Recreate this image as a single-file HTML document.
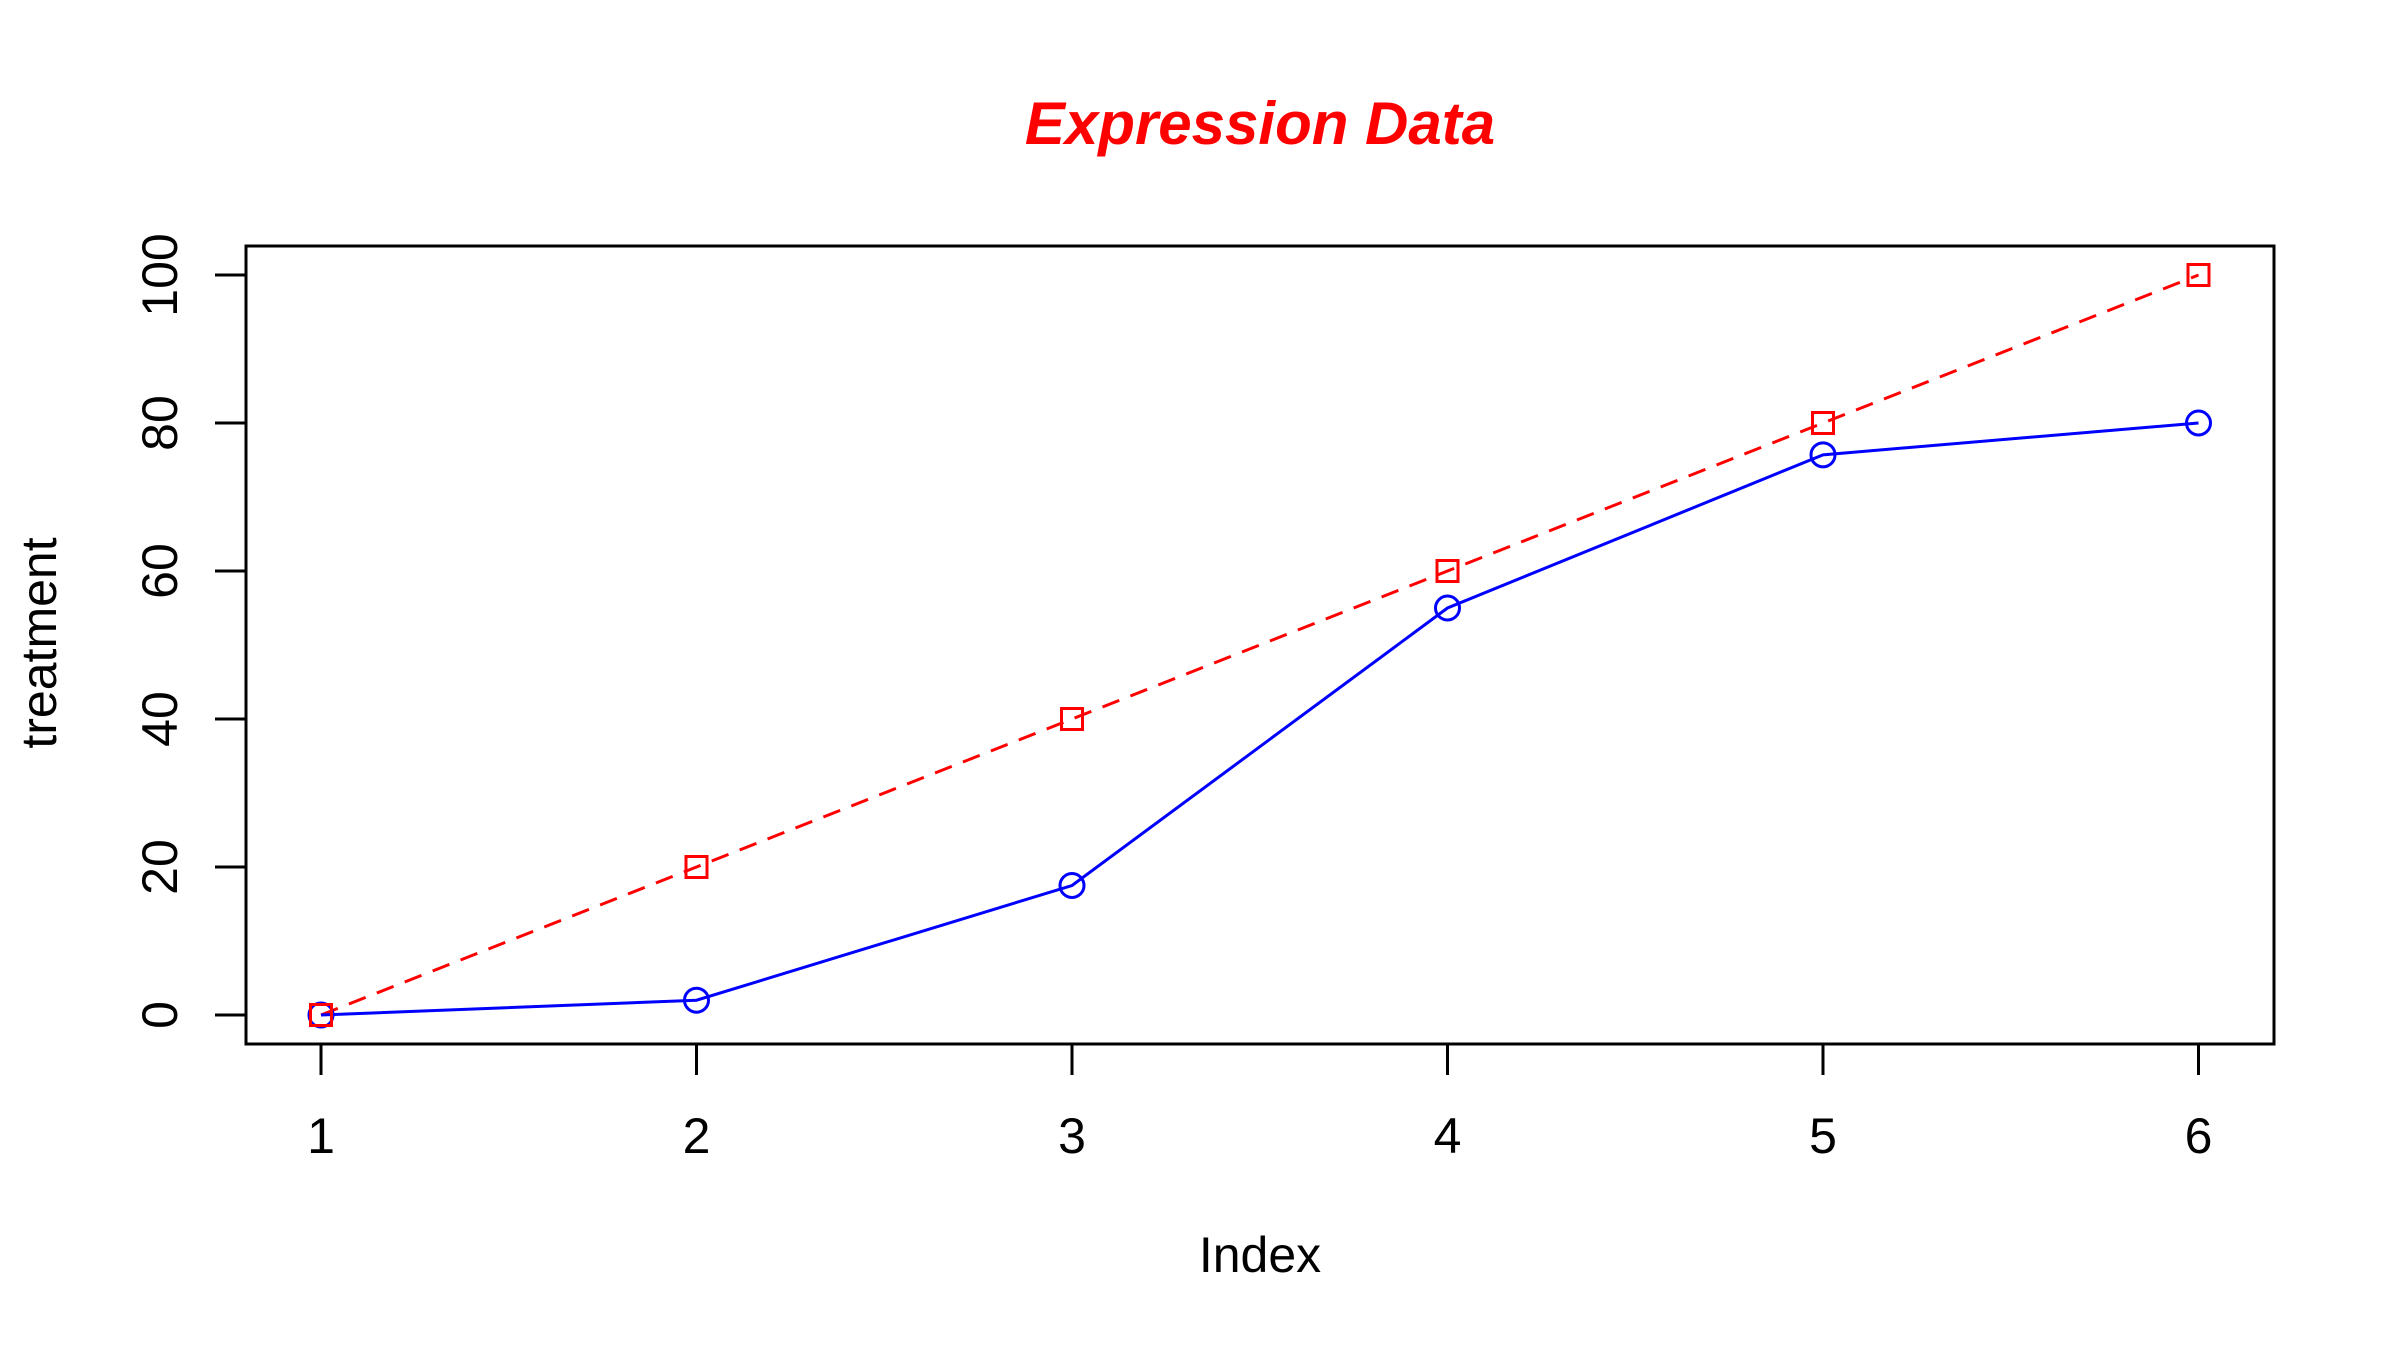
<!DOCTYPE html>
<html><head><meta charset="utf-8"><style>
html,body{margin:0;padding:0;background:#fff;}
svg{display:block;font-family:"Liberation Sans",Arial,sans-serif;}
</style></head><body>
<svg id="chart" width="2400" height="1350" viewBox="0 0 2400 1350">
<text x="1260" y="144" text-anchor="middle" font-size="60" font-weight="bold" font-style="italic" fill="#ff0000">Expression Data</text>
<rect x="246" y="246" width="2028" height="798" fill="none" stroke="#000" stroke-width="3"/>
<g id="xaxis"></g>
<g id="yaxis"></g>
<text x="1260" y="1272" text-anchor="middle" font-size="50">Index</text>
<text transform="translate(56,643) rotate(-90)" text-anchor="middle" font-size="50">treatment</text>
<g id="series"></g>
</svg>
<script>
const xIdx = [1, 2, 3, 4, 5, 6];
const control = [0, 2, 17.5, 55, 75.7, 80];
const treatment = [0, 20, 40, 60, 80, 100];
const xTicks = [1, 2, 3, 4, 5, 6];
const yTicks = [0, 20, 40, 60, 80, 100];

const NS = "http://www.w3.org/2000/svg";
function X(v){ return 321 + (v - 1) * 375.5; }
function Y(v){ return 1015 - v * 7.4; }
function mk(tag, attrs, parent){
  const e = document.createElementNS(NS, tag);
  for (const k in attrs) e.setAttribute(k, attrs[k]);
  parent.appendChild(e);
  return e;
}
const xa = document.getElementById('xaxis');
const ya = document.getElementById('yaxis');
const sg = document.getElementById('series');

xTicks.forEach(t => {
  const l = mk('line', {x1: X(t), x2: X(t), y1: 1044, y2: 1075, stroke: '#000', 'stroke-width': 3}, xa);
  
  
  const tx = mk('text', {x: X(t), y: 1153, 'text-anchor': 'middle', 'font-size': 50}, xa);
  tx.textContent = t;
  
  
});
yTicks.forEach(t => {
  const l = mk('line', {x1: 215, x2: 246, y1: Y(t), y2: Y(t), stroke: '#000', 'stroke-width': 3}, ya);
  
  
  const tx = mk('text', {transform: 'translate(177,' + Y(t) + ') rotate(-90)', 'text-anchor': 'middle', 'font-size': 50}, ya);
  tx.textContent = t;
  
  
});

const rp = mk('polyline', {points: xIdx.map((x, i) => X(x) + ',' + Y(treatment[i])).join(' '), fill: 'none', stroke: '#ff0000', 'stroke-width': 3, 'stroke-dasharray': '18,12'}, sg);


const bp = mk('polyline', {points: xIdx.map((x, i) => X(x) + ',' + Y(control[i])).join(' '), fill: 'none', stroke: '#0000ff', 'stroke-width': 3}, sg);


xIdx.forEach((x, i) => {
  const c = mk('circle', {cx: X(x), cy: Y(control[i]), r: 12, fill: 'none', stroke: '#0000ff', 'stroke-width': 3}, sg);
  
  
});
xIdx.forEach((x, i) => {
  const r = mk('rect', {x: X(x) - 10.5, y: Y(treatment[i]) - 10.5, width: 21, height: 21, fill: 'none', stroke: '#ff0000', 'stroke-width': 3}, sg);
  
  
});
</script>
</body></html>
